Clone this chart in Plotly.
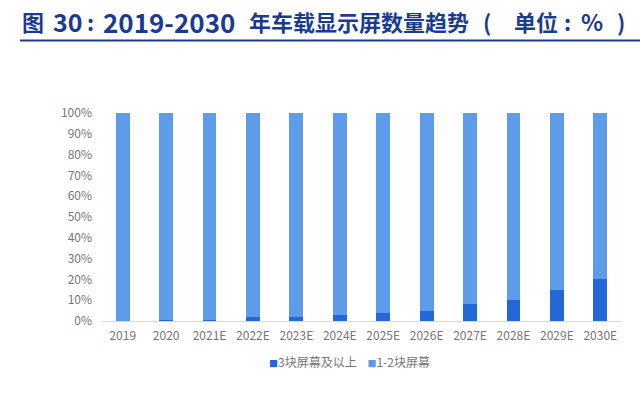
import plotly.graph_objects as go

categories = ["2019", "2020", "2021E", "2022E", "2023E", "2024E", "2025E", "2026E",
              "2027E", "2028E", "2029E", "2030E"]
three_plus = [0, 0.3, 0.5, 2, 2, 3, 4, 5, 8, 10, 15, 20]
one_two = [100 - v for v in three_plus]
y_ticks = [0, 10, 20, 30, 40, 50, 60, 70, 80, 90, 100]
y_tick_labels = [f"{t}%" for t in y_ticks]

series_names = ["3块屏幕及以上", "1-2块屏幕"]
series_colors = ["#2468D8", "#5E9BE8"]

# title pieces (text, size)
title_parts = [("图", 22), ("30", 25), (":", 22), ("2019-2030", 26),
               ("年车载显示屏数量趋势", 22), ("(", 22), ("单位", 22), (":", 22), ("%", 23), (")", 22)]
title_centers_px = [33, 67.5, 90, 169, 359, 487, 536, 567, 592, 621]

W, H = 640, 395
L, R, T, B = 101, 18, 113, 74
PW, PH = W - L - R, H - T - B


def px_x(px):
    return (px - L) / PW


def px_y(py):
    return (H - B - py) / PH


fig = go.Figure()
fig.add_trace(go.Bar(x=categories, y=three_plus, name=series_names[0],
                     marker=dict(color=series_colors[0], line=dict(width=0))))
fig.add_trace(go.Bar(x=categories, y=one_two, name=series_names[1],
                     marker=dict(color=series_colors[1], line=dict(width=0))))

font_family = "Noto Sans CJK SC, Noto Sans, sans-serif"
fig.update_layout(
    barmode="stack",
    bargap=0.68,
    width=W, height=H,
    margin=dict(l=L, r=R, t=T, b=B),
    plot_bgcolor="white", paper_bgcolor="white",
    font=dict(family=font_family, color="#767676", size=12),
    showlegend=False,
    xaxis=dict(showgrid=False, showline=True, linecolor="#D9D9D9", linewidth=1,
               ticks="", ticklabelstandoff=4, tickfont=dict(size=12, color="#767676")),
    yaxis=dict(range=[0, 100], tickvals=y_ticks, ticktext=y_tick_labels,
               showgrid=False, zeroline=False, showline=False, ticks="",
               ticklabelstandoff=8, tickfont=dict(size=12, color="#767676")),
)

title_color = "#1B3C8E"
for (txt, sz), cx in zip(title_parts, title_centers_px):
    fig.add_annotation(text=f"<b>{txt}</b>", xref="paper", yref="paper",
                       x=px_x(cx), y=px_y(21), xanchor="center", yanchor="middle",
                       showarrow=False, font=dict(size=sz, color=title_color, family=font_family))

fig.add_shape(type="line", xref="paper", yref="paper",
              x0=px_x(20), x1=px_x(640), y0=px_y(40.5), y1=px_y(40.5),
              line=dict(color=title_color, width=2))

legend_text = (f"<span style='color:{series_colors[0]};font-size:9px'>■</span>{series_names[0]}"
               f"    <span style='color:{series_colors[1]};font-size:9px'>■</span>{series_names[1]}")
fig.add_annotation(text=legend_text, xref="paper", yref="paper",
                   x=px_x(349), y=px_y(361), xanchor="center", yanchor="middle",
                   showarrow=False, font=dict(size=12, color="#767676", family=font_family))

fig.write_html("out.html", config={"displayModeBar": False},
               post_script="document.body.style.margin='0px';")
